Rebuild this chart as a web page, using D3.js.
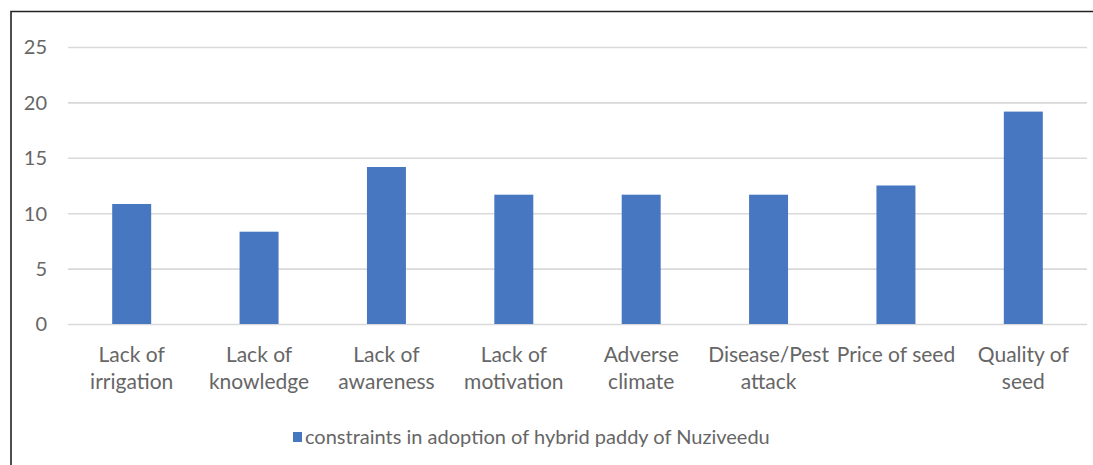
<!DOCTYPE html>
<html>
<head>
<meta charset="utf-8">
<script src="https://cdn.jsdelivr.net/npm/d3@7"></script>
<style>
  html, body { margin: 0; padding: 0; background: #fff; overflow: hidden; }
  svg { display: block; }
  text { font-family: Lato, "Open Sans", sans-serif; fill: #666; }
</style>
</head>
<body>
<svg id="chart" width="1093" height="465"></svg>
<script>
// Constraints reported by respondents (percent)
const categories = [
  "Lack of irrigation",
  "Lack of knowledge",
  "Lack of awareness",
  "Lack of motivation",
  "Adverse climate",
  "Disease/Pest attack",
  "Price of seed",
  "Quality of seed"
];
const values = [10.83, 8.33, 14.17, 11.67, 11.67, 11.67, 12.5, 19.17];
const yTicks = [0, 5, 10, 15, 20, 25];
const seriesName = "constraints in adoption of hybrid paddy of Nuziveedu";

const barColor = "#4677c0";
const svg = d3.select("#chart");

// chart frame: top and left edges (the rest runs off the page)
svg.append("path")
  .attr("d", "M11,465 V11.5 H1093")
  .attr("fill", "none").attr("stroke", "#222").attr("stroke-width", 1.6);

const plot = { left: 68, right: 1087, top: 47, bottom: 324 };

const x = d3.scaleBand()
  .domain(categories)
  .range([plot.left, plot.right])
  .paddingInner(0.694)
  .paddingOuter(0.347);

const y = d3.scaleLinear()
  .domain([0, 25])
  .range([plot.bottom, plot.top]);

// gridlines + y labels
const yAxis = svg.append("g")
  .attr("transform", `translate(${plot.left},0)`)
  .call(d3.axisLeft(y).tickValues(yTicks).tickSize(-(plot.right - plot.left)).tickPadding(21));
yAxis.select(".domain").remove();
yAxis.selectAll(".tick line").attr("stroke", "#d9d9d9").attr("stroke-width", 1.6);
yAxis.selectAll(".tick text")
  .style("font-size", "20px").attr("fill", "#6e6e6e").attr("dy", "0.34em");

// bars
svg.append("g").selectAll("rect")
  .data(values)
  .join("rect")
  .attr("x", (d, i) => x(categories[i]))
  .attr("width", x.bandwidth())
  .attr("y", d => y(d))
  .attr("height", d => y(0) - y(d))
  .attr("fill", barColor);

// category labels, wrapped to the band step
const xAxis = svg.append("g")
  .attr("transform", `translate(0,${plot.bottom})`)
  .call(d3.axisBottom(x).tickSize(0).tickPadding(0));
xAxis.select(".domain").remove();

function wrap(textSel, width) {
  textSel.each(function () {
    const t = d3.select(this);
    const words = t.text().split(/\s+/);
    t.text(null);
    let line = [];
    let lineNo = 0;
    let tspan = t.append("tspan").attr("x", 0).attr("y", 38);
    for (const w of words) {
      line.push(w);
      tspan.text(line.join(" "));
      if (tspan.node().getComputedTextLength() > width && line.length > 1) {
        line.pop();
        tspan.text(line.join(" "));
        line = [w];
        lineNo++;
        tspan = t.append("tspan").attr("x", 0).attr("y", 38 + lineNo * 27).text(w);
      }
    }
  });
}
xAxis.selectAll(".tick text")
  .style("font-size", "21px").attr("fill", "#666").attr("dy", null)
  .call(wrap, 127);

// legend
const legend = svg.append("g").attr("transform", "translate(293,437)");
legend.append("rect")
  .attr("x", 0).attr("y", -5).attr("width", 9).attr("height", 10)
  .attr("fill", barColor);
legend.append("text")
  .attr("x", 12).attr("y", 0).attr("dy", "0.35em")
  .style("font-size", "20px").attr("fill", "#666")
  .text(seriesName);
</script>
</body>
</html>
